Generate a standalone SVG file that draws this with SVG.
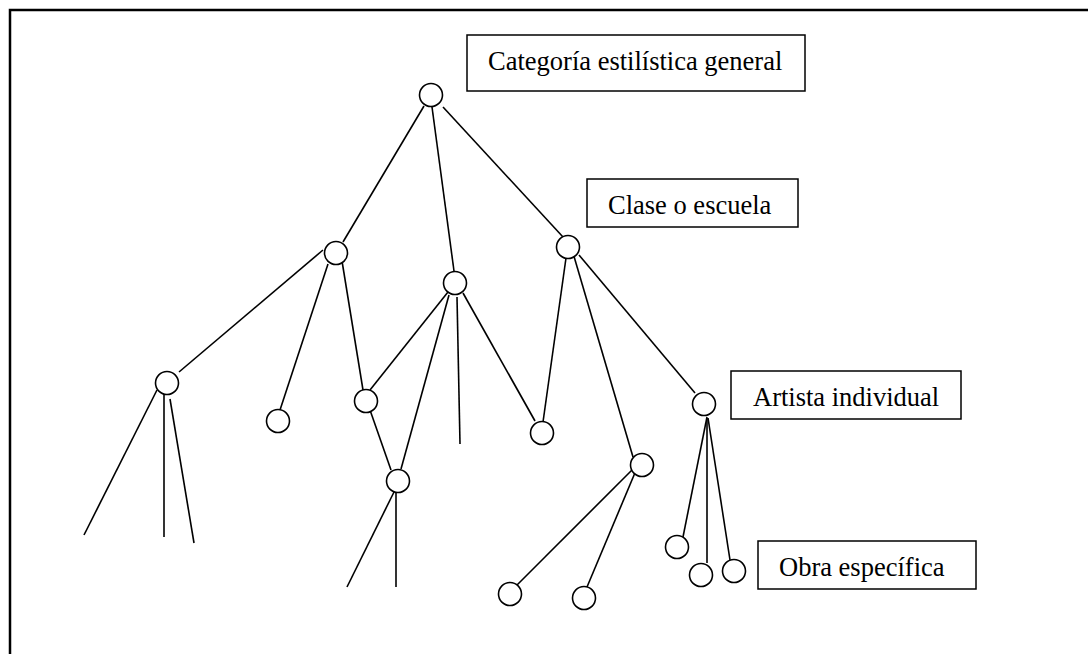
<svg xmlns="http://www.w3.org/2000/svg" width="1088" height="654" viewBox="0 0 1088 654">
<style>
.frame{fill:none;stroke:#000;stroke-width:2.5}
.box{fill:#fff;stroke:#000;stroke-width:1.5}
.lbl{font-family:"Liberation Serif","Times New Roman",serif;font-size:26.5px;fill:#000}
.n{fill:#fff;stroke:#000;stroke-width:1.6}
.e{stroke:#000;stroke-width:1.6;fill:none}
</style>
<rect x="0" y="0" width="1088" height="654" fill="#fff"/>
<path class="frame" d="M10,654 V10 H1088"/>
<g id="connectors">
<line class="e" x1="424" y1="106" x2="343" y2="242"/>
<line class="e" x1="432" y1="107" x2="454" y2="271"/>
<line class="e" x1="443" y1="107" x2="563" y2="237"/>
<line class="e" x1="323" y1="250" x2="179" y2="372"/>
<line class="e" x1="328" y1="264" x2="280" y2="410"/>
<line class="e" x1="342" y1="261" x2="363" y2="390"/>
<line class="e" x1="448" y1="292" x2="370" y2="390"/>
<line class="e" x1="449" y1="295" x2="401" y2="469"/>
<line class="e" x1="457" y1="297" x2="460" y2="444"/>
<line class="e" x1="463" y1="293" x2="535" y2="421"/>
<line class="e" x1="566" y1="258" x2="543" y2="422"/>
<line class="e" x1="573" y1="253" x2="633" y2="457"/>
<line class="e" x1="579" y1="255" x2="695" y2="393"/>
<line class="e" x1="157" y1="390" x2="84" y2="535"/>
<line class="e" x1="164" y1="393" x2="164" y2="537"/>
<line class="e" x1="170" y1="399" x2="194" y2="543"/>
<line class="e" x1="370" y1="410" x2="391" y2="470"/>
<line class="e" x1="394" y1="492" x2="347" y2="587"/>
<line class="e" x1="396" y1="493" x2="396" y2="587"/>
<line class="e" x1="635" y1="467" x2="517" y2="585"/>
<line class="e" x1="637" y1="468" x2="587" y2="587"/>
<line class="e" x1="707" y1="417" x2="683" y2="537"/>
<line class="e" x1="707" y1="418" x2="707" y2="563"/>
<line class="e" x1="708" y1="418" x2="730" y2="560"/>
</g>
<g id="lbl-categoria"><rect class="box" x="467" y="35" width="338" height="56"/><text class="lbl" x="488" y="70">Categoría estilística general</text></g>
<g id="lbl-clase"><rect class="box" x="587" y="179" width="211" height="48"/><text class="lbl" x="608" y="214">Clase o escuela</text></g>
<g id="lbl-artista"><rect class="box" x="731" y="371" width="230" height="48"/><text class="lbl" x="753" y="406">Artista individual</text></g>
<g id="lbl-obra"><rect class="box" x="758" y="541" width="218" height="48"/><text class="lbl" x="779" y="576">Obra específica</text></g>
<g id="nA"><circle class="n" cx="431" cy="95" r="11.5"/></g>
<g id="nB"><circle class="n" cx="336" cy="253" r="11.5"/></g>
<g id="nC"><circle class="n" cx="455" cy="283" r="11.5"/></g>
<g id="nD"><circle class="n" cx="568" cy="247" r="11.5"/></g>
<g id="nE"><circle class="n" cx="167" cy="383" r="11.5"/></g>
<g id="nF"><circle class="n" cx="278" cy="421" r="11.5"/></g>
<g id="nG"><circle class="n" cx="366" cy="401" r="11.5"/></g>
<g id="nH"><circle class="n" cx="398" cy="481" r="11.5"/></g>
<g id="nI"><circle class="n" cx="542" cy="433" r="11.5"/></g>
<g id="nJ"><circle class="n" cx="642" cy="465" r="11.5"/></g>
<g id="nK"><circle class="n" cx="704" cy="404" r="11.5"/></g>
<g id="nL"><circle class="n" cx="510" cy="594" r="11.5"/></g>
<g id="nM"><circle class="n" cx="584" cy="598" r="11.5"/></g>
<g id="nN"><circle class="n" cx="677" cy="547" r="11.5"/></g>
<g id="nO"><circle class="n" cx="701" cy="575" r="11.5"/></g>
<g id="nP"><circle class="n" cx="734" cy="571" r="11.5"/></g>
</svg>
